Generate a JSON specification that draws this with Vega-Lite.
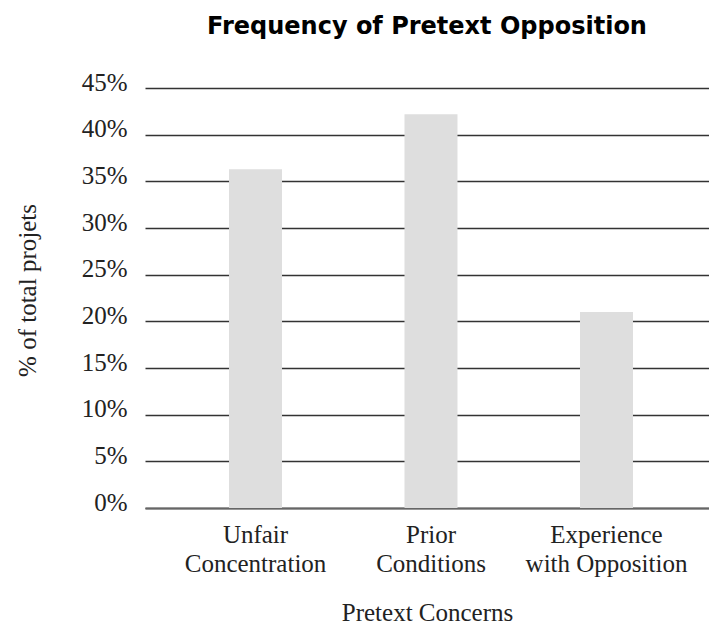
{
  "$schema": "https://vega.github.io/schema/vega-lite/v6.json",
  "width": 564,
  "height": 420,
  "autosize": {"type": "none"},
  "padding": {"left": 145, "top": 88, "right": 0, "bottom": 119},
  "background": "white",
  "title": {
    "text": "Frequency of Pretext Opposition",
    "font": "DejaVu Sans",
    "fontSize": 24,
    "fontWeight": "bold",
    "color": "#000000",
    "anchor": "middle",
    "offset": 31
  },
  "data": {
    "values": [
      {"concern": "Unfair Concentration", "share": 0.363},
      {"concern": "Prior Conditions", "share": 0.422},
      {"concern": "Experience with Opposition", "share": 0.21}
    ]
  },
  "mark": {"type": "bar", "color": "#dedede"},
  "encoding": {
    "x": {
      "field": "concern",
      "type": "nominal",
      "sort": null,
      "scale": {"paddingInner": 0.698, "paddingOuter": 0.456, "align": 0.525},
      "axis": {
        "title": "Pretext Concerns",
        "labelAngle": 0,
        "labelExpr": "datum.value == 'Unfair Concentration' ? ['Unfair', 'Concentration'] : datum.value == 'Prior Conditions' ? ['Prior', 'Conditions'] : ['Experience', 'with Opposition']",
        "labelLineHeight": 29,
        "labelPadding": 14,
        "ticks": false,
        "domain": true,
        "domainColor": "#666666",
        "domainWidth": 2,
        "titleY": 104,
        "titleBaseline": "middle"
      }
    },
    "y": {
      "field": "share",
      "type": "quantitative",
      "scale": {"domain": [0, 0.45], "nice": false},
      "axis": {
        "title": "% of total projets",
        "values": [0, 0.05, 0.1, 0.15, 0.2, 0.25, 0.3, 0.35, 0.4, 0.45],
        "format": ".0%",
        "ticks": false,
        "domain": false,
        "grid": true,
        "gridColor": "#333333",
        "gridWidth": 1.5,
        "labelPadding": 18,
        "labelOffset": -6,
        "titleX": -118,
        "titleY": 202,
        "titleAngle": -90,
        "titleBaseline": "middle",
        "titleAlign": "center"
      }
    }
  },
  "config": {
    "view": {"stroke": null},
    "axis": {
      "labelFont": "Liberation Serif",
      "labelFontSize": 25,
      "labelColor": "#222222",
      "titleFont": "Liberation Serif",
      "titleFontSize": 25,
      "titleFontWeight": "normal",
      "titleColor": "#222222"
    }
  }
}
